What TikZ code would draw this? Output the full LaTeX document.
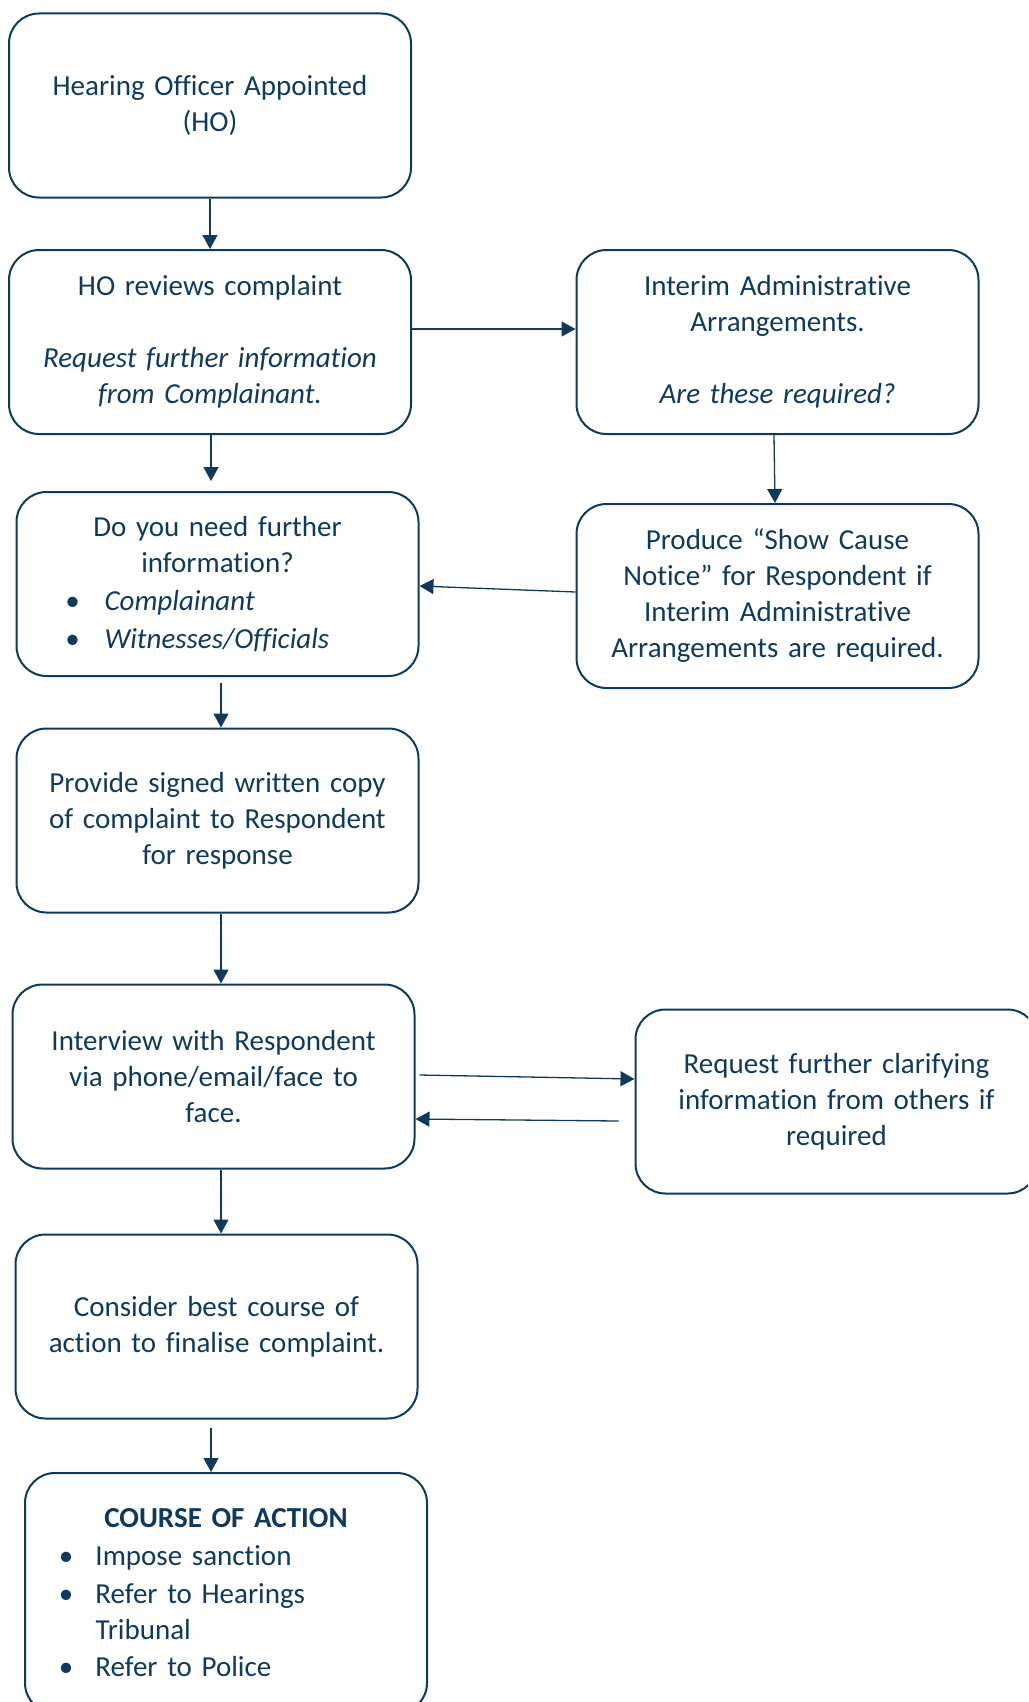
\documentclass[tikz,border=0pt]{standalone}
\usepackage{fontspec}
\setmainfont{Carlito}[Ligatures={NoCommon}]
\usetikzlibrary{arrows.meta}
\definecolor{navy}{HTML}{0F3A5F}
\newcommand\myBulA[1]{\makebox[402pt][l]{\hspace*{51pt}\makebox[10pt][c]{\textbullet}\hspace*{27pt}#1}}
\newcommand\myBulB[1]{\makebox[402pt][l]{\hspace*{36pt}\makebox[10pt][c]{\textbullet}\hspace*{24.5pt}#1}}
\newcommand\myIndB[1]{\makebox[402pt][l]{\hspace*{70.5pt}#1}}
\begin{document}
\begin{tikzpicture}[x=1pt,y=-1pt,
  box/.style={draw=navy, line width=2pt, rounded corners=30pt, minimum width=402pt,
    minimum height=184pt, inner sep=0pt, text width=402pt, align=center, text=navy,
    font=\fontsize{29}{36}\selectfont},
  arr/.style={draw=navy, line width=1.3pt, -{Triangle[width=15pt,length=14pt]}}]
\useasboundingbox (0,0) rectangle (1028,1702);
\clip (0,0) rectangle (1028,1702);

\node[box] (b1) at (210,105.5) {Hearing Officer Appointed\\(HO)};
\node[box] (b2) at (210,342) {HO reviews complaint\\[36pt]\itshape Request further information\\from Complainant.};
\node[box] (b3) at (777.5,342) {Interim Administrative\\Arrangements.\\[36pt]\itshape Are these required?};
\node[box] (b4) at (217.5,584) {Do you need further\\information?\\[2pt]\myBulA{\itshape Complainant}\\[2pt]\myBulA{\itshape Witnesses/Officials}};
\node[box] (b5) at (777.5,596) {Produce “Show Cause\\Notice” for Respondent if\\Interim Administrative\\Arrangements are required.};
\node[box] (b6) at (217.5,820.5) {Provide signed written copy\\of complaint to Respondent\\for response};
\node[box] (b7) at (213.5,1076.5) {Interview with Respondent\\via phone/email/face to\\face.};
\node[box] (b8) at (836.5,1101.5) {Request further clarifying\\information from others if\\required};
\node[box] (b9) at (216.5,1326.5) {Consider best course of\\action to finalise complaint.};
\node[box, minimum height=240pt] (b10) at (226,1593) {\textbf{COURSE OF ACTION}\\[2pt]\myBulB{Impose sanction}\\[2pt]\myBulB{Refer to Hearings}\\\myIndB{Tribunal}\\[1pt]\myBulB{Refer to Police}};

\draw[arr] (b1.south) -- (b1.south |- b2.north);
\draw[arr] ([yshift=13pt]b2.east) -- ([yshift=13pt]b2.east -| b3.west);
\draw[arr, shorten >=10pt] ([xshift=1pt]b2.south) -- ([xshift=1pt]b2.south |- b4.north);
\draw[arr] ([xshift=-3.5pt]b3.south) -- ([xshift=-2.5pt]b5.north);
\draw[arr] ([yshift=4pt]b5.west) -- ([yshift=-2pt]b4.east);
\draw[arr, shorten <=6pt] ([xshift=3.5pt]b4.south) -- ([xshift=3.5pt]b4.south |- b6.north);
\draw[arr] ([xshift=3.5pt]b6.south) -- ([xshift=3.5pt]b6.south |- b7.north);
\draw[arr] ([xshift=4pt,yshift=1.5pt]b7.east) -- ([yshift=22.5pt]b8.west);
\draw[arr] ([xshift=-16pt,yshift=-19.5pt]b8.west) -- ([yshift=-42.5pt]b7.east);
\draw[arr] ([xshift=7.5pt]b7.south) -- ([xshift=7.5pt]b7.south |- b9.north);
\draw[arr, shorten <=8pt] ([xshift=-5.5pt]b9.south) -- ([xshift=-5.5pt]b9.south |- b10.north);
\end{tikzpicture}
\end{document}
